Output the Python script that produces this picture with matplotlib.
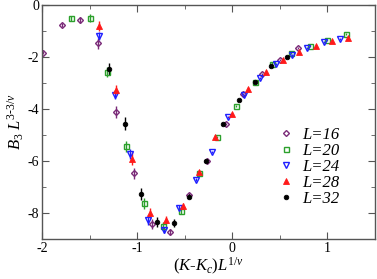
import matplotlib
matplotlib.use("Agg")
import matplotlib.pyplot as plt
from matplotlib.lines import Line2D
import numpy as np

plt.rcParams['font.family'] = ['Liberation Serif', 'DejaVu Serif']
plt.rcParams['mathtext.fontset'] = 'custom'
plt.rcParams['mathtext.rm'] = 'Liberation Serif'
plt.rcParams['mathtext.it'] = 'Liberation Serif:italic'
plt.rcParams['axes.unicode_minus'] = False

labels = ["L=16", "L=20", "L=24", "L=28", "L=32"]

x16 = [-1.99, -1.79, -1.60, -1.41, -1.22, -1.03, -0.84, -0.65, -0.46, -0.27, -0.07, 0.11, 0.31, 0.50, 0.69]
y16 = [-1.83, -0.77, -0.58, -1.48, -4.12, -6.47, -8.43, -8.73, -7.31, -6.00, -4.57, -3.41, -2.66, -2.10, -1.67]
e16 = [0.06, 0.08, 0.10, 0.20, 0.22, 0.22, 0.20, 0.12, 0.08, 0.06, 0.04, 0.04, 0.04, 0.04, 0.04]

x20 = [-1.70, -1.50, -1.32, -1.12, -0.93, -0.73, -0.54, -0.35, -0.16, 0.04, 0.24, 0.42, 0.62, 0.82, 1.00, 1.20]
y20 = [-0.51, -0.51, -2.57, -5.44, -7.63, -8.51, -7.92, -6.48, -5.07, -3.90, -2.96, -2.25, -1.84, -1.58, -1.35, -1.13]
e20 = [0.10, 0.15, 0.20, 0.20, 0.20, 0.15, 0.10, 0.06, 0.05, 0.04, 0.04, 0.04, 0.04, 0.04, 0.04, 0.04]

x24 = [-1.40, -1.23, -1.07, -0.89, -0.72, -0.56, -0.38, -0.21, -0.05, 0.12, 0.29, 0.46, 0.63, 0.79, 0.96, 1.13]
y24 = [-1.18, -3.45, -5.73, -8.27, -8.64, -7.79, -6.72, -5.66, -4.31, -3.47, -2.79, -2.28, -1.93, -1.65, -1.44, -1.29]
e24 = [0.15, 0.18, 0.18, 0.18, 0.12, 0.08, 0.06, 0.05, 0.04, 0.04, 0.04, 0.04, 0.04, 0.04, 0.04, 0.04]

x28 = [-1.40, -1.22, -1.05, -0.87, -0.70, -0.52, -0.35, -0.18, 0.00, 0.17, 0.35, 0.53, 0.70, 0.88, 1.05, 1.22]
y28 = [-0.81, -3.26, -5.92, -7.99, -8.27, -7.72, -6.44, -5.08, -4.18, -3.22, -2.56, -2.12, -1.80, -1.57, -1.40, -1.25]
e28 = [0.18, 0.18, 0.25, 0.20, 0.15, 0.10, 0.06, 0.05, 0.04, 0.04, 0.04, 0.04, 0.04, 0.04, 0.04, 0.04]

x32 = [-1.30, -1.13, -0.96, -0.79, -0.61, -0.45, -0.28, -0.10, 0.07, 0.24, 0.41, 0.58]
y32 = [-2.47, -4.57, -7.27, -8.34, -8.37, -7.37, -6.00, -4.57, -3.67, -2.96, -2.33, -1.99]
e32 = [0.24, 0.25, 0.22, 0.18, 0.15, 0.10, 0.07, 0.05, 0.04, 0.04, 0.04, 0.04]

fig = plt.figure(figsize=(3.77, 2.79), dpi=100)
ax = fig.add_axes([42/377, 1 - 239/279, 333/377, 234/279])

styles = [
    dict(marker='D', color='#7a2a78', mfc='none', ms=3.0, mew=1.0),
    dict(marker='s', color='#2ca02c', mfc='none', ms=3.6, mew=1.0),
    dict(marker='v', color='#1f1fff', mfc='none', ms=4.2, mew=1.0),
    dict(marker='^', color='#ff1a1a', mfc='#ff1a1a', ms=3.8, mew=0.6),
    dict(marker='o', color='black', mfc='black', ms=3.3, mew=0.6),
]
series = [(x16, y16, e16), (x20, y20, e20), (x24, y24, e24), (x28, y28, e28), (x32, y32, e32)]

handles = []
for (x, y, e), st, lab in zip(series, styles, labels):
    ax.errorbar(x, y, yerr=e, linestyle='none', elinewidth=1.0, capsize=0,
                marker=st['marker'], color=st['color'], mfc=st['mfc'], mec=st['color'],
                ms=st['ms'], mew=st['mew'])
    handles.append(Line2D([], [], linestyle='none', marker=st['marker'], color=st['color'],
                          mfc=st['mfc'], mec=st['color'], ms=st['ms'], mew=st['mew'], label=lab))

ax.set_xlim(-2, 1.5)
ax.set_ylim(-9, 0)
ax.set_xticks([-2, -1, 0, 1])
ax.set_xticks([-1.5, -0.5, 0.5, 1.5], minor=True)
ax.set_yticks([0, -2, -4, -6, -8])
ax.set_yticks([-1, -3, -5, -7, -9], minor=True)
ax.set_xticklabels(['-2', '-1', '0', '1'])
ax.set_yticklabels(['0', '-2', '-4', '-6', '-8'])
ax.tick_params(direction='in', top=True, right=True, which='both', labelsize=10,
               color='#555555', pad=2)
ax.tick_params(which='major', length=5)
ax.tick_params(which='minor', length=3)
for sp in ax.spines.values():
    sp.set_color('#555555')
    sp.set_linewidth(1.0)

ax.set_xlabel(r'$(K\text{-}K_c)L^{1/\nu}$', fontsize=12, labelpad=1)
ax.set_ylabel(r'$B_3\ L^{3\text{-}3/\nu}$', fontsize=12, labelpad=1)

leg = ax.legend(handles=handles, loc='upper left', bbox_to_anchor=(0.675, 0.53), frameon=False,
                prop={'family': 'Liberation Serif', 'style': 'italic', 'size': 12},
                handletextpad=0.5, labelspacing=0.0, handlelength=0.9, borderpad=0.2)

fig.savefig('out.png', dpi=100)
